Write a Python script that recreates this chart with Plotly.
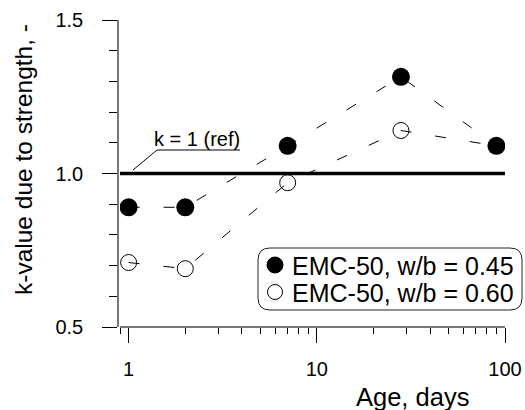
import plotly.graph_objects as go

# ---- data ----
ages = [1, 2, 7, 28, 90]
k_045 = [0.89, 0.89, 1.09, 1.315, 1.09]
k_060 = [0.71, 0.69, 0.97, 1.14, 1.09]
name_045 = "EMC-50, w/b = 0.45"
name_060 = "EMC-50, w/b = 0.60"
ref_k = 1.0
x_tickvals = [1, 10, 100]
x_ticktext = ["1", "10", "100"]
x_minor = [0.9, 2, 3, 4, 5, 6, 7, 8, 9, 20, 30, 40, 50, 60, 70, 80, 90]
y_tickvals = [0.5, 1.0, 1.5]
y_ticktext = ["0.5", "1.0", "1.5"]

W, H = 525, 410
L, R, T, B = 118, 20, 20, 83
PW, PH = W - L - R, H - T - B


def px(x, y):
    return (x - L) / PW, (H - B - y) / PH


FONT = "Liberation Sans, Arial, sans-serif"
DASH = "11px,24px"

fig = go.Figure()
# dashed connecting lines
for ys in (k_060, k_045):
    fig.add_trace(go.Scatter(x=ages, y=ys, mode="lines", showlegend=False,
                             hoverinfo="skip",
                             line=dict(color="black", width=1, dash=DASH)))
# markers
fig.add_trace(go.Scatter(x=ages[:4], y=k_060[:4], mode="markers", name=name_060,
                         showlegend=False,
                         marker=dict(symbol="circle-open", size=16, color="black",
                                     line=dict(width=1, color="black"))))
fig.add_trace(go.Scatter(x=ages, y=k_045, mode="markers", name=name_045,
                         showlegend=False,
                         marker=dict(symbol="circle", size=18, color="black")))

# reference line
fig.add_shape(type="line", xref="x domain", yref="y", x0=0, x1=1, y0=ref_k, y1=ref_k,
              line=dict(color="black", width=3.5))

# annotation "k = 1 (ref)" with leader
ax0, ay0 = px(157, 150)
ax1, ay1 = px(240, 150)
ax2, ay2 = px(133, 170)
fig.add_shape(type="line", xref="paper", yref="paper", x0=ax0, y0=ay0, x1=ax1, y1=ay1,
              line=dict(color="black", width=1))
fig.add_shape(type="line", xref="paper", yref="paper", x0=ax0, y0=ay0, x1=ax2, y1=ay2,
              line=dict(color="black", width=1))
tx, ty = px(197, 139)
fig.add_annotation(text="k = 1 (ref)", xref="paper", yref="paper", x=tx, y=ty,
                   showarrow=False, xanchor="center", yanchor="middle",
                   font=dict(family=FONT, size=20, color="black"))

# rounded legend box
lx0, ly0 = px(258, 310)
lx1, ly1 = px(522, 248)
rx, ry = 12 / PW, 12 / PH
path = (f"M {lx0+rx},{ly1} L {lx1-rx},{ly1} Q {lx1},{ly1} {lx1},{ly1-ry} "
        f"L {lx1},{ly0+ry} Q {lx1},{ly0} {lx1-rx},{ly0} L {lx0+rx},{ly0} "
        f"Q {lx0},{ly0} {lx0},{ly0+ry} L {lx0},{ly1-ry} Q {lx0},{ly1} {lx0+rx},{ly1} Z")
fig.add_shape(type="path", xref="paper", yref="paper", path=path,
              line=dict(color="#222", width=1))

# manual legend entries
legend_items = [(name_045, 265, "black", "circle"), (name_060, 292, "white", "open")]
for name, row_y, fill, kind in legend_items:
    cx, cy = px(275, row_y)
    r = 8 if kind == "circle" else 7.5
    fig.add_shape(type="circle", xref="paper", yref="paper",
                  xsizemode="pixel", ysizemode="pixel", xanchor=cx, yanchor=cy,
                  x0=-r, x1=r, y0=-r, y1=r,
                  fillcolor=fill, line=dict(color="black", width=1))
    tx_, ty_ = px(290, row_y + 1)
    fig.add_annotation(text=name, xref="paper", yref="paper", x=tx_, y=ty_,
                       showarrow=False, xanchor="left", yanchor="middle",
                       font=dict(family=FONT, size=25, color="black"))

# axis titles as annotations
yx, yy = px(23, 160)
fig.add_annotation(text="k-value due to strength, -", xref="paper", yref="paper",
                   x=yx, y=yy, textangle=-90, showarrow=False,
                   xanchor="center", yanchor="middle",
                   font=dict(family=FONT, size=24.5, color="black"))
xx, xy = px(412, 397)
fig.add_annotation(text="Age, days", xref="paper", yref="paper", x=xx, y=xy,
                   showarrow=False, xanchor="center", yanchor="middle",
                   font=dict(family=FONT, size=25.5, color="black"))

fig.update_layout(
    width=W, height=H,
    margin=dict(l=L, r=R, t=T, b=B, pad=0, autoexpand=False),
    paper_bgcolor="white", plot_bgcolor="white",
    font=dict(family=FONT, size=20, color="black"),
    showlegend=False,
    xaxis=dict(type="log", range=[-0.0458, 2], domain=[2 / PW, 1],
               anchor="free", position=0,
               showgrid=False, zeroline=False, showline=True,
               linecolor="#777", linewidth=1.5,
               tickmode="array", tickvals=x_tickvals, ticktext=x_ticktext,
               ticks="outside", ticklen=15, tickwidth=1, tickcolor="black",
               ticklabelstandoff=9,
               minor=dict(tickmode="array", tickvals=x_minor, ticks="outside",
                          ticklen=6, tickwidth=1, tickcolor="black", showgrid=False)),
    yaxis=dict(range=[0.5, 1.5], anchor="free", position=0,
               showgrid=False, zeroline=False, showline=True,
               linecolor="#777", linewidth=1.5,
               tickmode="array", tickvals=y_tickvals, ticktext=y_ticktext,
               ticks="outside", ticklen=15, tickwidth=1, tickcolor="black",
               ticklabelstandoff=15,
               minor=dict(dtick=0.1, ticks="outside", ticklen=8, tickwidth=1,
                          tickcolor="black", showgrid=False)),
)

fig.write_html("out.html")
